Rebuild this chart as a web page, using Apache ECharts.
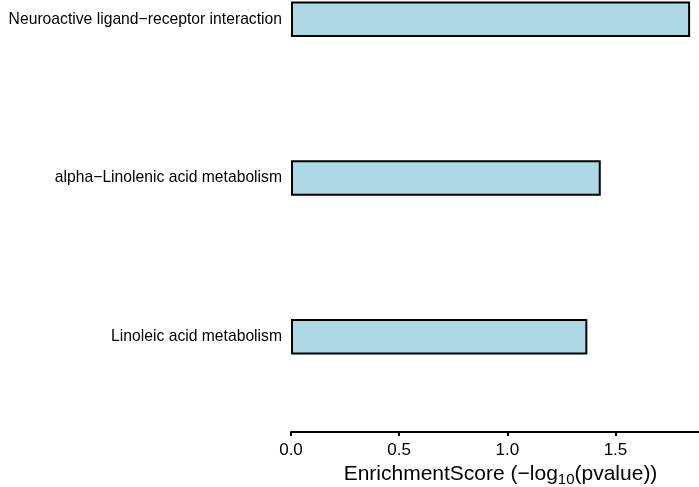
<!DOCTYPE html>
<html>
<head>
<meta charset="utf-8">
<script src="https://cdn.jsdelivr.net/npm/echarts@6/dist/echarts.min.js"></script>
<style>html,body{margin:0;padding:0;background:#fff;}#c{width:699px;height:487px;}</style>
</head>
<body>
<div id="c"></div>
<script>
// bottom to top
const categories = ['Linoleic acid metabolism', 'alpha\u2212Linolenic acid metabolism', 'Neuroactive ligand\u2212receptor interaction'];
const scores = [1.370, 1.432, 1.845];
const xTicks = [0, 0.5, 1.0, 1.5];

const chart = echarts.init(document.getElementById('c'), null, {renderer: 'canvas'});
const FONT = 'Liberation Sans';
chart.setOption({
  animation: false,
  backgroundColor: '#ffffff',
  grid: {left: 291, width: 419, top: -60, height: 476, containLabel: false, outerBoundsMode: 'none'},
  xAxis: {
    type: 'value', min: 0, max: 1.937, interval: 0.5,
    offset: 16,
    axisLine: {show: true, onZero: false, lineStyle: {color: '#000', width: 2}},
    axisTick: {show: true, length: 4, lineStyle: {color: '#000', width: 2}},
    splitLine: {show: false},
    axisLabel: {
      color: '#000', fontFamily: FONT, fontSize: 17, margin: 10,
      formatter: v => xTicks.some(t => Math.abs(t - v) < 1e-9) ? v.toFixed(1) : ''
    },
    name: '{a|EnrichmentScore (\u2212log}{s|10}{a|(pvalue))}',
    nameLocation: 'middle', nameGap: 25,
    nameTextStyle: {
      rich: {
        a: {fontFamily: FONT, fontSize: 21, color: '#000'},
        s: {fontFamily: FONT, fontSize: 15, color: '#000', verticalAlign: 'bottom', padding: [10, 0, 0, 0]}
      }
    }
  },
  yAxis: {
    type: 'category', data: categories,
    axisLine: {show: false}, axisTick: {show: false}, splitLine: {show: false},
    axisLabel: {color: '#000', fontFamily: FONT, fontSize: 15.7, margin: 9}
  },
  series: [{
    type: 'bar', data: scores, barWidth: 35.5,
    itemStyle: {color: '#ADD8E6', borderColor: '#000', borderWidth: 2}
  }]
});
</script>
</body>
</html>
